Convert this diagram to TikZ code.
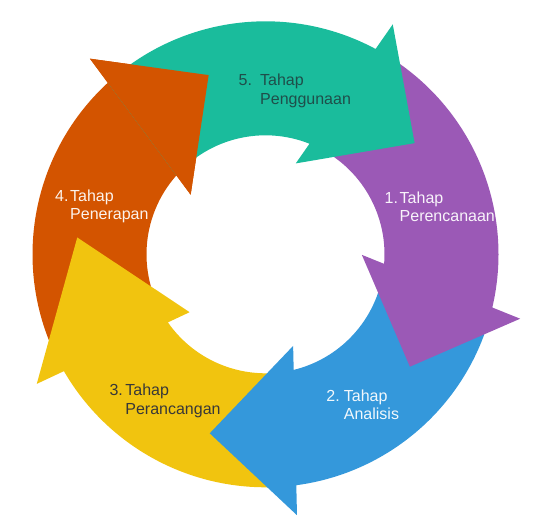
\documentclass[tikz,border=0pt]{standalone}
\usepackage{fontspec}
\setmainfont{Liberation Sans}
\usetikzlibrary{calc}
\definecolor{tealF}{HTML}{1ABC9C}
\definecolor{purpleF}{HTML}{9B59B6}
\definecolor{blueF}{HTML}{3498DB}
\definecolor{yellowF}{HTML}{F1C40F}
\definecolor{orangeF}{HTML}{D35400}
\definecolor{inkT}{HTML}{1F4E4A}
\definecolor{inkY}{HTML}{383838}
\tikzset{
  stagelabel/.style={font=\fontsize{16}{18.2}\selectfont, anchor=base west, inner sep=0pt},
  lightlabel/.style={stagelabel, text=white!93!#1},
  darklabel/.style={stagelabel, text=#1}
}
\newcommand{\stagetext}[4]{\begin{tabular}[t]{@{}l@{}l@{}}\makebox[#1][l]{#2}&#3\\&#4\end{tabular}}

\begin{document}
\begin{tikzpicture}[x=1pt,y=1pt]
\useasboundingbox (0,0) rectangle (550,530);

\coordinate (c) at (265.5,275.7);

\coordinate (g-in) at ($(c)+(68.3:119)$);
\coordinate (g-out) at ($(c)+(61.8:233)$);
\coordinate (g-tip) at ($(c)+(36.7:186)$);
\coordinate (p-in) at ($(c)+(-4.6:119)$);
\coordinate (p-out) at ($(c)+(-13.2:233)$);
\coordinate (p-tip) at ($(c)+(-37.9:183)$);
\coordinate (b-in) at ($(c)+(-76.3:119)$);
\coordinate (b-out) at ($(c)+(-82.4:233)$);
\coordinate (b-tip) at ($(c)+(-107.3:187.5)$);
\coordinate (y-in) at ($(c)+(-145.1:119)$);
\coordinate (y-out) at ($(c)+(-149.9:233)$);
\coordinate (y-tip) at ($(c)+(174.9:189)$);
\coordinate (o-in) at ($(c)+(138.5:119)$);
\coordinate (o-out) at ($(c)+(132.6:233)$);
\coordinate (o-tip) at ($(c)+(107.6:188)$);

\fill[orangeF] (y-out) arc[start angle=-149.9, end angle=-227.4, radius=233]
  -- ($(o-out)!-30pt!(o-in)$) -- (o-tip) -- ($(o-in)!-24pt!(o-out)$)
  -- (o-in) arc[start angle=-221.5, end angle=-145.1, radius=119] -- cycle;

\fill[yellowF] (b-out) arc[start angle=-82.4, end angle=-149.9, radius=233]
  -- ($(y-out)!-30pt!(y-in)$) -- (y-tip) -- ($(y-in)!-24pt!(y-out)$)
  -- (y-in) arc[start angle=-145.1, end angle=-76.3, radius=119] -- cycle;

\fill[blueF] (p-out) arc[start angle=-13.2, end angle=-82.4, radius=233]
  -- ($(b-out)!-30pt!(b-in)$) -- (b-tip) -- ($(b-in)!-24pt!(b-out)$)
  -- (b-in) arc[start angle=-76.3, end angle=-4.6, radius=119] -- cycle;

\fill[purpleF] (g-out) arc[start angle=61.8, end angle=-13.2, radius=233]
  -- ($(p-out)!-30pt!(p-in)$) -- (p-tip) -- ($(p-in)!-24pt!(p-out)$)
  -- (p-in) arc[start angle=-4.6, end angle=68.3, radius=119] -- cycle;

\fill[tealF] (o-out) arc[start angle=132.6, end angle=61.8, radius=233]
  -- ($(g-out)!-30pt!(g-in)$) -- (g-tip) -- ($(g-in)!-24pt!(g-out)$)
  -- (g-in) arc[start angle=68.3, end angle=138.5, radius=119] -- cycle;

\fill[orangeF] ($(o-out)!-30pt!(o-in)$) -- (o-tip) -- ($(o-in)!-24pt!(o-out)$) -- cycle;

\node[darklabel=inkT] (stage5) at (238.5,444) {\stagetext{21.5pt}{5.}{Tahap}{Penggunaan}};
\node[lightlabel=purpleF] (stage1) at (384.5,326.7) {\stagetext{15pt}{1.}{Tahap}{Perencanaan}};
\node[lightlabel=blueF] (stage2) at (326.2,128.3) {\stagetext{17.5pt}{2.}{Tahap}{Analisis}};
\node[darklabel=inkY] (stage3) at (109.4,134) {\stagetext{15.8pt}{3.}{Tahap}{Perancangan}};
\node[lightlabel=orangeF] (stage4) at (55,328.3) {\stagetext{15pt}{4.}{Tahap}{Penerapan}};

\end{tikzpicture}
\end{document}
